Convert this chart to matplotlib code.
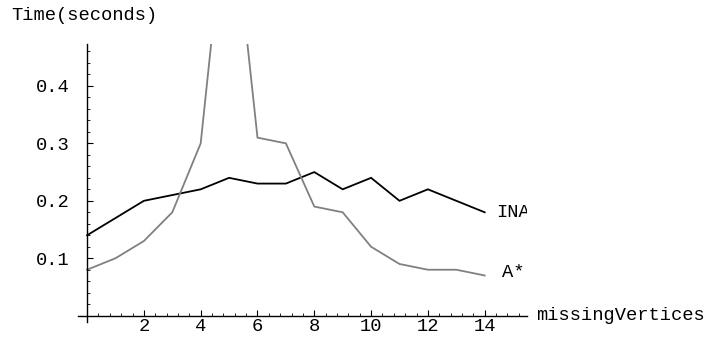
import matplotlib
matplotlib.use("Agg")
import matplotlib.pyplot as plt
from matplotlib.ticker import MultipleLocator, FixedLocator

# Timing results per number of missing vertices
missing_vertices = list(range(15))
ina_time = [0.14, 0.17, 0.20, 0.21, 0.22, 0.24, 0.23, 0.23, 0.25, 0.22, 0.24, 0.20, 0.22, 0.20, 0.18]
astar_time = [0.08, 0.10, 0.13, 0.18, 0.30, 0.77, 0.31, 0.30, 0.19, 0.18, 0.12, 0.09, 0.08, 0.08, 0.07]
series_names = ["INA", "A*"]
x_ticks = [2, 4, 6, 8, 10, 12, 14]
y_ticks = [0.1, 0.2, 0.3, 0.4]

W, H = 712, 338
fig = plt.figure(figsize=(W / 100, H / 100), dpi=100)
font = "Liberation Mono"
fs = 13.5

left_px, right_px, top_px, bottom_px = 78, 527, 44, 322
ax = fig.add_axes([left_px / W, 1 - bottom_px / H,
                   (right_px - left_px) / W, (bottom_px - top_px) / H])
ax.patch.set_alpha(0)

ax.plot(missing_vertices, ina_time, color="black", lw=1.3, solid_joinstyle="miter")
ax.plot(missing_vertices, astar_time, color="#808080", lw=1.3, solid_joinstyle="miter")

ax.text(14.4, ina_time[-1], series_names[0], fontfamily=font, fontsize=fs,
        va="center", ha="left", clip_on=True)
ax.text(14.6, astar_time[-1] + 0.006, series_names[1], fontfamily=font, fontsize=fs,
        va="center", ha="left", clip_on=True)

ax.set_xlim(-0.32, 15.49)
ax.set_ylim(-0.011, 0.473)

for s in ["top", "right"]:
    ax.spines[s].set_visible(False)
ax.spines["left"].set_position(("data", 0))
ax.spines["bottom"].set_position(("data", 0))
for s in ["left", "bottom"]:
    ax.spines[s].set_linewidth(1.0)

ax.xaxis.set_major_locator(FixedLocator(x_ticks))
ax.xaxis.set_minor_locator(MultipleLocator(0.4))
ax.yaxis.set_major_locator(FixedLocator(y_ticks))
ax.yaxis.set_minor_locator(MultipleLocator(0.02))
ax.set_xticklabels([str(v) for v in x_ticks], fontfamily=font, fontsize=fs)
ax.set_yticklabels([f"{v:.1f}" for v in y_ticks], fontfamily=font, fontsize=fs)
ax.tick_params(axis="both", which="major", direction="in", length=4, width=0.8)
ax.tick_params(axis="both", which="minor", direction="in", length=2.5, width=0.6)
ax.tick_params(axis="x", which="major", pad=2)
ax.tick_params(axis="y", which="major", pad=12.5)

fig.text(11 / W, 1 - 15 / H, "Time(seconds)", fontfamily=font, fontsize=fs,
         va="center", ha="left")
fig.text(536 / W, 1 - 315 / H, "missingVertices", fontfamily=font, fontsize=fs,
         va="center", ha="left")

fig.savefig("out.png", dpi=100)
